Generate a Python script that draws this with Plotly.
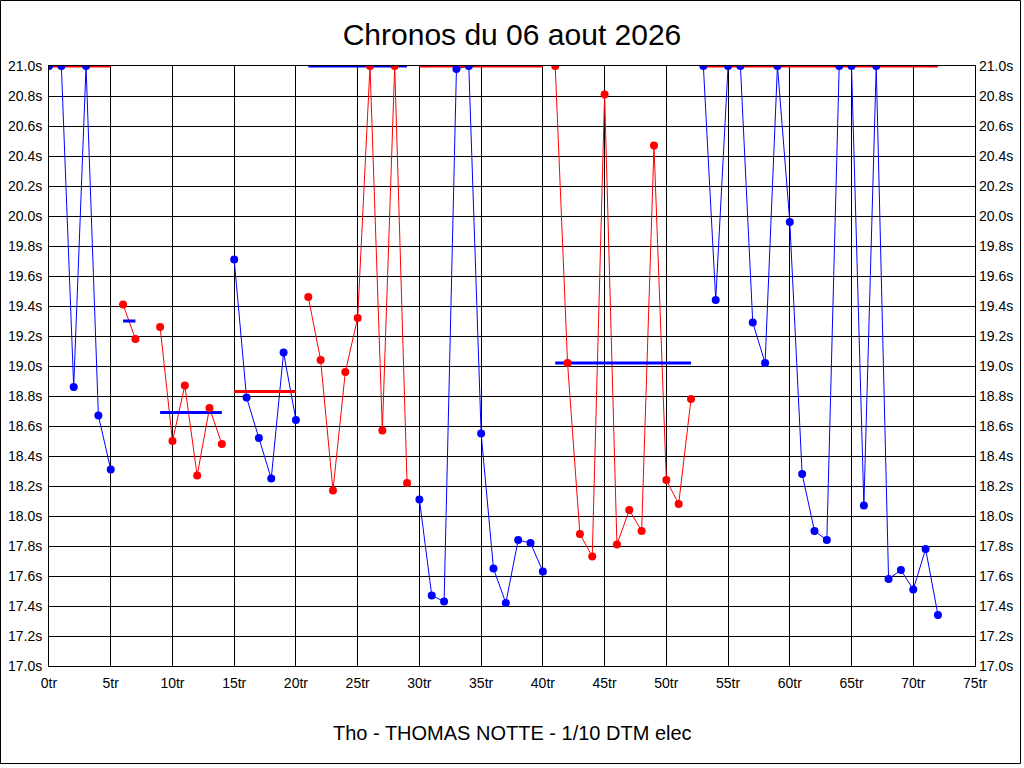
import plotly.graph_objects as go

# ---- data ----
stint_laps = [
    [0, 1, 2, 3, 4, 5],
    [6, 7],
    [9, 10, 11, 12, 13, 14],
    [15, 16, 17, 18, 19, 20],
    [21, 22, 23, 24, 25, 26, 27, 28, 29],
    [30, 31, 32, 33, 34, 35, 36, 37, 38, 39, 40],
    [41, 42, 43, 44, 45, 46, 47, 48, 49, 50, 51, 52],
    [53, 54, 55, 56, 57, 58, 59, 60, 61, 62, 63, 64, 65, 66, 67, 68, 69, 70, 71, 72],
]
stint_times = [
    [21.0, 21.0, 18.86, 21.0, 18.67, 18.31],
    [19.41, 19.18],
    [19.26, 18.50, 18.87, 18.27, 18.72, 18.48],
    [19.71, 18.79, 18.52, 18.25, 19.09, 18.64],
    [19.46, 19.04, 18.17, 18.96, 19.32, 21.0, 18.57, 21.0, 18.22],
    [18.11, 17.47, 17.43, 20.98, 21.0, 18.55, 17.65, 17.42, 17.84, 17.82, 17.63],
    [21.0, 19.02, 17.88, 17.73, 20.81, 17.81, 18.04, 17.90, 20.47, 18.24, 18.08, 18.78],
    [21.0, 19.44, 21.0, 21.0, 19.29, 19.02, 21.0, 19.96, 18.28, 17.90, 17.84, 21.0,
     21.0, 18.07, 21.0, 17.58, 17.64, 17.51, 17.78, 17.34],
]
stint_colors = ["blue", "red", "red", "blue", "red", "blue", "red", "blue"]
avg_colors = ["red", "blue", "blue", "red", "blue", "red", "blue", "red"]
stint_avg = [21.0, 19.30, 18.69, 18.83, 21.0, 21.0, 19.02, 21.0]

x_ticks = list(range(0, 80, 5))
x_tick_labels = [f"{v}tr" for v in x_ticks]
y_ticks = [round(17.0 + 0.2 * i, 1) for i in range(21)]
y_tick_labels = [f"{v:.1f}s" for v in y_ticks]

title_text = "Chronos du 06 aout 2026"
driver_text = "Tho - THOMAS NOTTE - 1/10 DTM elec"

fig = go.Figure()

# lap time lines
for laps, times, col in zip(stint_laps, stint_times, stint_colors):
    fig.add_trace(go.Scatter(x=laps, y=times, mode="lines",
                             line=dict(color=col, width=1), showlegend=False,
                             hoverinfo="skip"))
# average lines
for laps, avg, col in zip(stint_laps, stint_avg, avg_colors):
    fig.add_trace(go.Scatter(x=[laps[0], laps[-1]], y=[avg, avg], mode="lines",
                             line=dict(color=col, width=3), showlegend=False,
                             hoverinfo="skip"))
# markers
for laps, times, col in zip(stint_laps, stint_times, stint_colors):
    fig.add_trace(go.Scatter(x=laps, y=times, mode="markers",
                             marker=dict(color=col, size=8), showlegend=False))

# invisible trace for the right axis
fig.add_trace(go.Scatter(x=[0], y=[17.0], yaxis="y2", mode="markers",
                         marker=dict(opacity=0), showlegend=False, hoverinfo="skip"))

axis_font = dict(family="Liberation Sans, Arial, sans-serif", size=14, color="black")

fig.update_layout(
    width=1024, height=768,
    margin=dict(l=49, r=49, t=66, b=102, autoexpand=False),
    paper_bgcolor="white", plot_bgcolor="white",
    font=dict(family="Liberation Sans, Arial, sans-serif", color="black"),
    title=dict(text=title_text, x=0.5, xanchor="center", y=1 - 34 / 768,
               yanchor="middle", font=dict(size=30, color="black")),
    xaxis=dict(range=[0, 75], tickvals=x_ticks, ticktext=x_tick_labels,
               showgrid=True, gridcolor="black", gridwidth=1,
               showline=True, linecolor="black", linewidth=1, mirror=True,
               zeroline=False, ticks="", tickfont=axis_font, ticklabelstandoff=4,
               automargin=False),
    yaxis=dict(range=[17.0, 21.0], tickvals=y_ticks, ticktext=y_tick_labels,
               showgrid=True, gridcolor="black", gridwidth=1,
               showline=True, linecolor="black", linewidth=1, mirror=True,
               zeroline=False, ticks="", tickfont=axis_font, ticklabelstandoff=3,
               automargin=False),
    yaxis2=dict(range=[17.0, 21.0], tickvals=y_ticks, ticktext=y_tick_labels,
                overlaying="y", side="right", showgrid=False, zeroline=False,
                ticks="", tickfont=axis_font, ticklabelstandoff=3,
                automargin=False),
    annotations=[dict(text=driver_text, xref="paper", yref="paper",
                      x=0.5, y=(666 - 733) / 600, xanchor="center", yanchor="middle",
                      showarrow=False, font=dict(size=20, color="black"))],
    shapes=[dict(type="rect", xref="paper", yref="paper",
                 x0=(0.5 - 49) / 926, x1=(1020.5 - 49) / 926,
                 y0=(666 - 763.5) / 600, y1=(666 - 0.5) / 600,
                 line=dict(color="black", width=1), fillcolor="rgba(0,0,0,0)")],
)

fig.write_html(
    "out.html",
    config={"displayModeBar": False},
    post_script="document.body.style.margin='0';document.body.style.overflow='hidden';",
)
